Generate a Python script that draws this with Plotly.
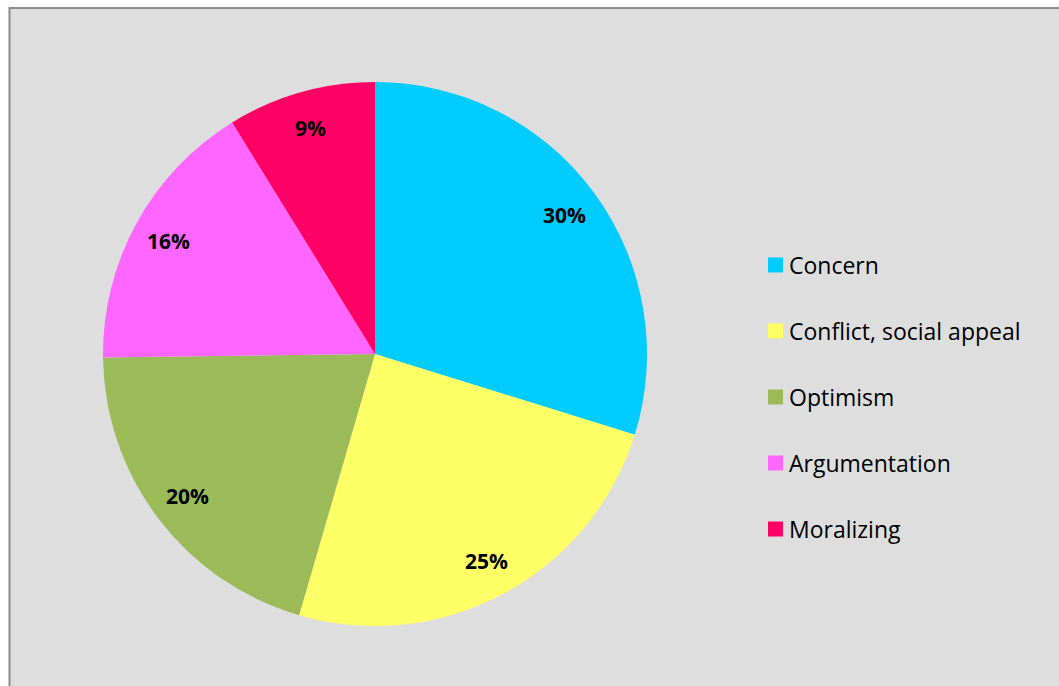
import math
import plotly.graph_objects as go

# Share of message frames (percent)
labels = ["Concern", "Conflict, social appeal", "Optimism", "Argumentation", "Moralizing"]
values = [29.8, 24.7, 20.3, 16.4, 8.8]
colors = ["#00CCFF", "#FFFF66", "#9BBB59", "#FF66FF", "#FF0066"]

W, H = 1059, 686
cx, cy, r = 375, 354, 272  # pie centre and radius in pixels
label_r = 0.865               # percent labels sit at this fraction of the radius
FONT = "Open Sans"

fig = go.Figure(go.Pie(
    labels=labels,
    values=values,
    sort=False,
    direction="clockwise",
    rotation=0,
    marker=dict(colors=colors, line=dict(width=0)),
    textinfo="none",
    domain=dict(x=[(cx - r) / W, (cx + r) / W], y=[(H - cy - r) / H, (H - cy + r) / H]),
    showlegend=False,
    hoverinfo="label+percent",
))

shapes = [dict(type="rect", xref="paper", yref="paper",
               x0=9.5 / W, x1=1 + 5 / W, y0=-5 / H, y1=1 - 8 / H,
               line=dict(color="#8C8C8C", width=2), fillcolor="#DEDEDE", layer="below")]
annotations = []

# Percent labels at each slice's mid-angle (clockwise from 12 o'clock)
total = sum(values)
cum = 0
for v in values:
    mid = (cum + v / 2) / total * 2 * math.pi
    cum += v
    px = cx + label_r * r * math.sin(mid)
    py = cy - label_r * r * math.cos(mid)
    annotations.append(dict(x=px / W, y=1 - py / H, xref="paper", yref="paper",
                            text=f"<b>{round(v / total * 100)}%</b>", showarrow=False,
                            xanchor="center", yanchor="middle",
                            font=dict(family=FONT, size=21, color="black")))

# Legend column
row0, gap = 265, 66
for i, (lab, col) in enumerate(zip(labels, colors)):
    yc = row0 + gap * i
    shapes.append(dict(type="rect", xref="paper", yref="paper",
                       x0=768 / W, x1=783 / W, y0=1 - (yc + 7.5) / H, y1=1 - (yc - 7.5) / H,
                       line=dict(width=0), fillcolor=col))
    annotations.append(dict(x=787 / W, y=1 - yc / H, xref="paper", yref="paper",
                            text=lab, showarrow=False, xanchor="left", yanchor="middle",
                            font=dict(family=FONT, size=23, color="black")))

fig.update_layout(
    width=W, height=H,
    margin=dict(l=0, r=0, t=0, b=0),
    paper_bgcolor="white",
    plot_bgcolor="white",
    shapes=shapes,
    annotations=annotations,
)

fig.write_html("out.html")
